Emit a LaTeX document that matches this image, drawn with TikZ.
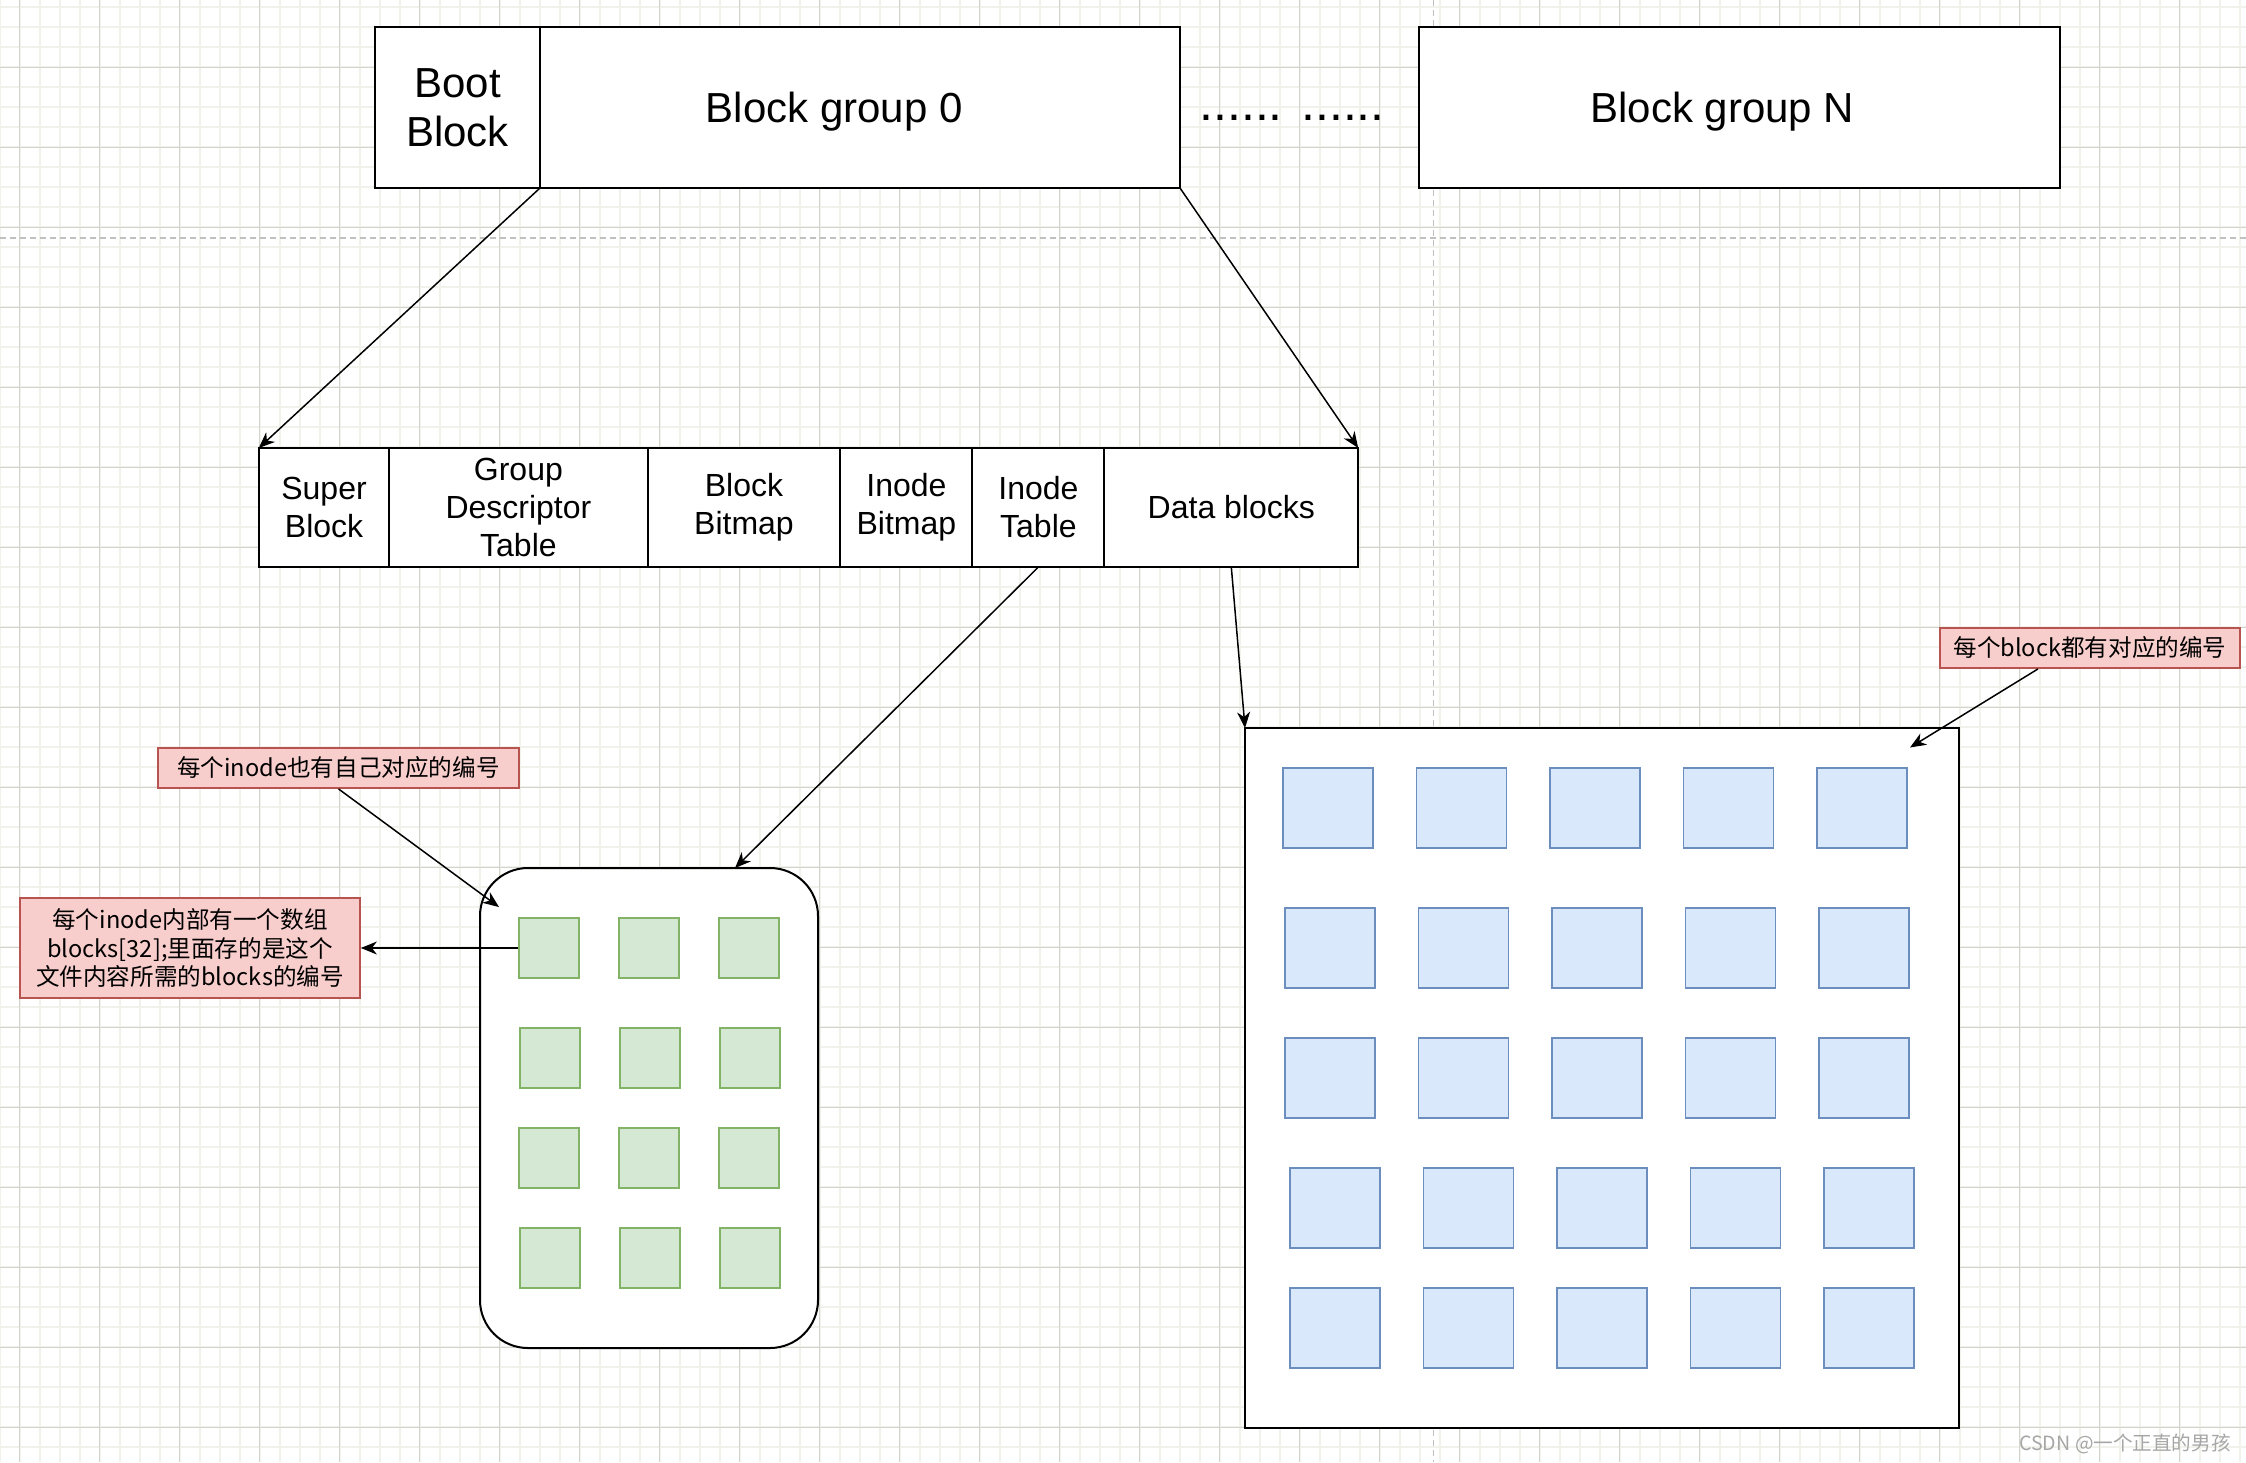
\documentclass[tikz,border=0pt]{standalone}
\usepackage{fontspec}
\setmainfont{Liberation Sans}
\newfontfamily\cjk{Noto Sans CJK SC}
\usetikzlibrary{arrows.meta, positioning, calc}

\definecolor{gridminor}{HTML}{F2F2EC}
\definecolor{gridmajor}{HTML}{D4D4CC}
\definecolor{pagebreak}{HTML}{C0C0C0}
\definecolor{inofill}{HTML}{D5E8D4}
\definecolor{inoline}{HTML}{82B366}
\definecolor{blkfill}{HTML}{DAE8FC}
\definecolor{blkline}{HTML}{6C8EBF}
\definecolor{notefill}{HTML}{F8CECC}
\definecolor{noteline}{HTML}{B85450}

\begin{document}
\begin{tikzpicture}[
    x=0.5pt, y=-0.5pt,
    cell/.style={draw, line width=1pt, fill=white, rectangle, inner sep=0pt, outer sep=0pt, align=center},
    topcell/.style={cell, minimum height=80.5pt, font=\fontsize{21}{24.5}\selectfont},
    lowcell/.style={cell, minimum height=59.5pt, font=\fontsize{16}{19}\selectfont},
    islot/.style={draw=inoline, fill=inofill, line width=0.9pt, minimum size=30pt, inner sep=0pt},
    dslot/.style={draw=blkline, fill=blkfill, line width=0.9pt, minimum width=45pt, minimum height=40pt, inner sep=0pt},
    note/.style={draw=noteline, fill=notefill, line width=0.9pt, inner sep=0pt, align=center, font=\cjk\fontsize{11.8}{14.3}\selectfont},
    link/.style={line width=0.75pt, -{Stealth[length=8pt, width=6.5pt, inset=2.5pt]}}
]
\useasboundingbox (0,0) rectangle (2246,1462);

% Background grid and page breaks
\fill[white] (0,0) rectangle (2246,1462);
\foreach \gx in {-0.5,19.5,...,2246} \draw[gridminor, line width=1pt] (\gx,0) -- (\gx,1462);
\foreach \gy in {7,27,...,1462} \draw[gridminor, line width=1pt] (0,\gy) -- (2246,\gy);
\foreach \gx in {19.5,99.5,...,2246} \draw[gridmajor, line width=0.5pt] (\gx,0) -- (\gx,1462);
\foreach \gy in {67,147,...,1462} \draw[gridmajor, line width=0.5pt] (0,\gy) -- (2246,\gy);
\draw[pagebreak, line width=0.75pt, dash pattern=on 3pt off 2pt] (0,238) -- (2246,238);
\draw[pagebreak, line width=0.75pt, dash pattern=on 3pt off 2pt] (1433.5,0) -- (1433.5,1462);

% Disk layout
\node[topcell, minimum width=82.5pt, anchor=north west] (boot) at (375,27) {Boot\\Block};
\node[topcell, minimum width=320pt, text depth=0pt, right=0pt of boot] (grp0) {Block group 0\hspace*{25.8pt}};
\node[topcell, minimum width=320.5pt, text depth=0pt, anchor=north west] (grpN) at (1419,27) {Block group N\hspace*{17.2pt}};
\node[font=\fontsize{25}{25}\selectfont, anchor=base] (gap) at (1292,120) {...... ......};

% Block group 0 in detail
\node[lowcell, minimum width=65.25pt, anchor=north west] (sup) at (258.8,448) {Super\\Block};
\node[lowcell, minimum width=129.1pt, right=0pt of sup] (gdt) {Group\\Descriptor\\Table};
\node[lowcell, minimum width=96.45pt, right=0pt of gdt] (bbm) {Block\\Bitmap};
\node[lowcell, minimum width=66pt, right=0pt of bbm] (ibm) {Inode\\Bitmap};
\node[lowcell, minimum width=66pt, right=0pt of ibm] (itab) {Inode\\Table};
\node[lowcell, minimum width=126.9pt, right=0pt of itab] (dat) {Data blocks};

% One inode
\node[cell, rounded corners=24pt, minimum width=169pt, minimum height=240pt, anchor=north west] (ibox) at (480,868) {};
\foreach \sy/\sx [count=\r] in {948/549, 1058/550, 1158/549, 1258/550}
  \foreach \c in {1,2,3}
    \node[islot] (s\r\c) at (\sx+100*\c-100, \sy) {};

% Data blocks
\node[cell, minimum width=357pt, minimum height=350pt, anchor=north west] (bbox) at (1245,728) {};
\foreach \sy/\sx [count=\r] in {808/1328, 948/1330, 1078/1330, 1208/1335, 1328/1335}
  \foreach \c in {0,...,4}
    \node[dslot] (b\r\c) at (\sx+133.5*\c, \sy) {};

% Notes
\node[note, minimum width=150pt, minimum height=20pt] (nblk) at (2090,648) {每个block都有对应的编号};
\node[note, minimum width=180.5pt, minimum height=20pt] (nino) at (338.5,768) {每个inode也有自己对应的编号};
\node[note, minimum width=170pt, minimum height=50pt] (narr) at (190,948) {每个inode内部有一个数组\\blocks[32];里面存的是这个\\文件内容所需的blocks的编号};
\node[text=gray!70, font=\cjk\fontsize{9.8}{12}\selectfont] (mark) at (2125,1444) {CSDN @一个正直的男孩};

% Arrows
\draw[link] (grp0.south west) -- (sup.north west);
\draw[link] (grp0.south east) -- (dat.north east);
\draw[link] (itab.south) -- ([xshift=43pt]ibox.north);
\draw[link] (dat.south) -- (bbox.north west);
\draw[link] ([xshift=-26pt]nblk.south) -- ([xshift=-24.5pt,yshift=-9.75pt]bbox.north east);
\draw[link] (nino.south) -- ([xshift=9.5pt,yshift=-19.5pt]ibox.north west);
\draw[link] (s11.west) -- (narr.east);

\end{tikzpicture}
\end{document}
